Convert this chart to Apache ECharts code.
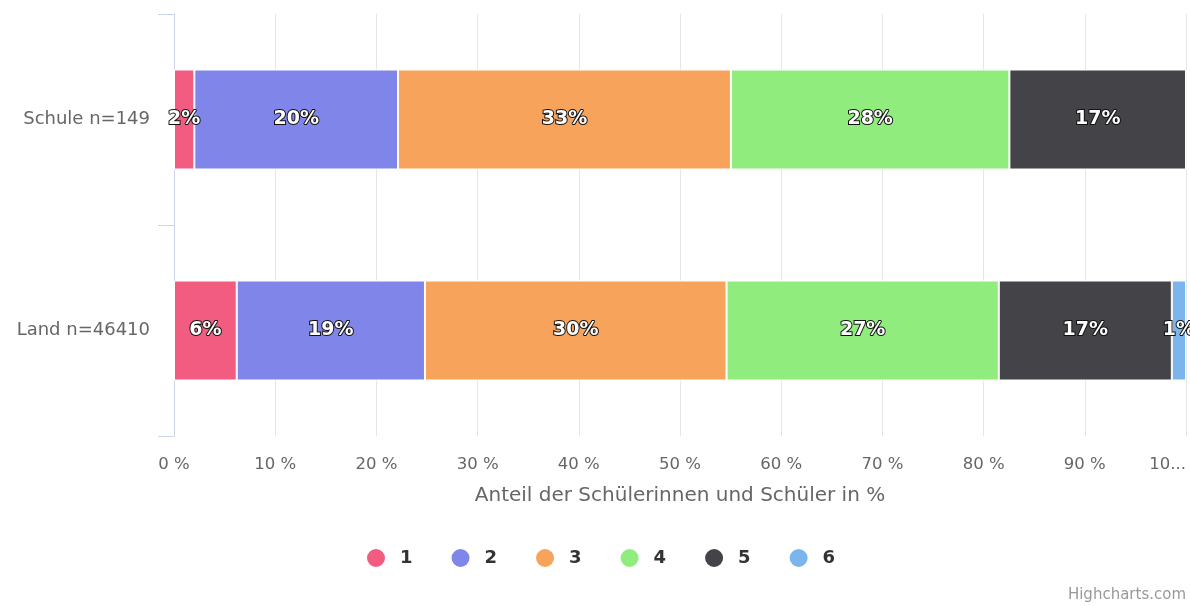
<!DOCTYPE html>
<html>
<head>
<meta charset="utf-8">
<script src="https://cdn.jsdelivr.net/npm/echarts@6/dist/echarts.min.js"></script>
<style>html,body{margin:0;padding:0;background:#fff;overflow:hidden;}#c{width:1190px;height:606px;}</style>
</head>
<body>
<div id="c"></div>
<script>
var categories = ['Schule n=149', 'Land n=46410'];
var seriesNames = ['1', '2', '3', '4', '5', '6'];
var s1 = [2.01, 6.2];
var s2 = [20.13, 18.6];
var s3 = [32.89, 29.8];
var s4 = [27.52, 26.9];
var s5 = [17.45, 17.1];
var s6 = [0, 1.4];
var xTicks = [0, 10, 20, 30, 40, 50, 60, 70, 80, 90, 100];
var colors = ['#f15c80', '#8085e9', '#f7a35c', '#90ed7d', '#434348', '#7cb5ec'];
var allValues = [s1, s2, s3, s4, s5, s6];
var FONT = 'DejaVu Sans, sans-serif';

var chart = echarts.init(document.getElementById('c'));
var series = allValues.map(function (vals, i) {
  return {
    name: seriesNames[i],
    type: 'bar',
    stack: 'total',
    barWidth: 100,
    data: vals,
    itemStyle: { color: colors[i], borderColor: '#fff', borderWidth: 1 },
    label: {
      show: true,
      position: 'inside',
      formatter: function (p) { return p.value > 0 ? Math.round(p.value) + '%' : ''; },
      color: '#fff',
      fontFamily: FONT,
      fontWeight: 'bold',
      fontSize: 19,
      textBorderColor: '#111',
      textBorderWidth: 2
    }
  };
});

chart.setOption({
  animation: false,
  color: colors,
  grid: { left: 174, right: 4, top: 14, bottom: 170, containLabel: false, outerBoundsMode: 'none' },
  legend: {
    top: 542,
    left: 360,
    icon: 'circle',
    itemWidth: 20,
    itemHeight: 20,
    itemGap: 37,
    textStyle: { color: '#333', fontWeight: 'bold', fontSize: 18, fontFamily: FONT, padding: [0, 0, 0, 9] },
    data: seriesNames
  },
  xAxis: {
    type: 'value',
    min: xTicks[0],
    max: xTicks[xTicks.length - 1],
    interval: 10,
    name: 'Anteil der Schülerinnen und Schüler in %',
    nameLocation: 'middle',
    nameGap: 50,
    nameTextStyle: { color: '#666', fontSize: 20, fontFamily: FONT },
    axisLine: { show: false },
    axisTick: { show: false },
    splitLine: { show: true, lineStyle: { color: '#e6e6e6', width: 1 } },
    axisLabel: {
      color: '#666',
      fontSize: 16.5,
      margin: 20,
      fontFamily: FONT,
      alignMaxLabel: 'right',
      formatter: function (v) { return v === 100 ? '10...' : v + ' %'; }
    }
  },
  yAxis: {
    type: 'category',
    inverse: true,
    data: categories,
    axisLine: { show: true, lineStyle: { color: '#ccd6eb' } },
    axisTick: { show: true, length: 16, lineStyle: { color: '#ccd6eb' } },
    splitLine: { show: false },
    axisLabel: { color: '#666', fontSize: 18, margin: 24, fontFamily: FONT }
  },
  graphic: [{
    type: 'text',
    right: 4,
    bottom: 3,
    style: { text: 'Highcharts.com', fill: '#999', fontSize: 15, fontFamily: FONT }
  }],
  series: series
});
</script>
</body>
</html>
